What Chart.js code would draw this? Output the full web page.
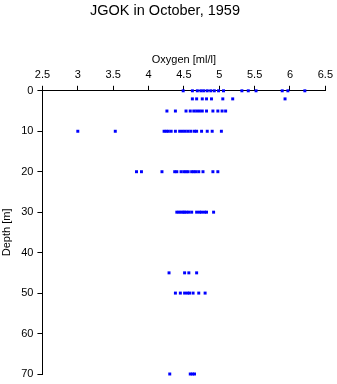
<!DOCTYPE html>
<html><head><meta charset="utf-8">
<script src="https://cdn.jsdelivr.net/npm/chart.js@4/dist/chart.umd.min.js"></script>
<style>html,body{margin:0;padding:0;background:#fff}#c{display:block}</style>
</head><body>
<canvas id="c" width="337" height="384"></canvas>
<script>
const depths = [0, 2, 5, 10, 20, 30, 45, 50, 70];
const oxygen0  = [4.49, 4.62, 4.69, 4.74, 4.78, 4.83, 4.88, 4.93, 4.99, 5.06, 5.32, 5.41, 5.52, 5.89, 5.97, 6.21];
const oxygen2  = [4.62, 4.68, 4.76, 4.82, 4.89, 5.05, 5.19, 5.93];
const oxygen5  = [4.26, 4.38, 4.53, 4.59, 4.64, 4.68, 4.72, 4.76, 4.82, 4.91, 4.98, 5.04, 5.09];
const oxygen10 = [3.0, 3.53, 4.22, 4.25, 4.28, 4.32, 4.38, 4.44, 4.48, 4.52, 4.56, 4.60, 4.65, 4.68, 4.75, 4.83, 4.90, 5.03];
const oxygen20 = [3.83, 3.90, 4.19, 4.37, 4.40, 4.46, 4.50, 4.53, 4.56, 4.61, 4.64, 4.67, 4.71, 4.77, 4.91, 4.98];
const oxygen30 = [4.40, 4.43, 4.46, 4.49, 4.51, 4.54, 4.57, 4.61, 4.68, 4.72, 4.75, 4.79, 4.82, 4.92];
const oxygen45 = [4.29, 4.51, 4.57, 4.68];
const oxygen50 = [4.38, 4.45, 4.51, 4.55, 4.58, 4.63, 4.71, 4.80];
const oxygen70 = [4.30, 4.59, 4.62, 4.65];
const xTicks = [2.5, 3, 3.5, 4, 4.5, 5, 5.5, 6, 6.5];
const yTicks = [0, 10, 20, 30, 40, 50, 60, 70];

const series = [oxygen0, oxygen2, oxygen5, oxygen10, oxygen20, oxygen30, oxygen45, oxygen50, oxygen70];
const points = [];
series.forEach((arr, i) => arr.forEach(v => points.push({x: v, y: depths[i]})));

const FONT = "'Liberation Sans', Arial, sans-serif";
new Chart(document.getElementById('c'), {
  type: 'scatter',
  data: { datasets: [{
    data: points,
    pointStyle: 'rect',
    pointRadius: 2.1,
    backgroundColor: '#0000ff',
    borderColor: '#0000ff',
    borderWidth: 0,
    clip: false
  }]},
  options: {
    responsive: false,
    animation: false,
    devicePixelRatio: 1,
    layout: { padding: { left: 0, right: 7, top: 0, bottom: 10 } },
    plugins: {
      legend: { display: false },
      tooltip: { enabled: false },
      title: {
        display: true,
        text: 'JGOK in October, 1959',
        color: '#000',
        font: { family: FONT, size: 14.5, weight: 'normal' },
        padding: { top: 2, bottom: 34 }
      }
    },
    scales: {
      x: {
        type: 'linear',
        position: 'top',
        min: 2.5, max: 6.5,
        afterBuildTicks: s => { s.ticks = xTicks.map(v => ({value: v})); },
        ticks: { color: '#000', font: { family: FONT, size: 11 }, padding: 4, maxRotation: 0,
                 callback: v => String(v) },
        grid: { drawOnChartArea: false, drawTicks: true, tickLength: 5, color: '#000', lineWidth: 1 },
        border: { display: true, color: '#000', width: 1 },
        title: { display: true, text: 'Oxygen [ml/l]', color: '#000', font: { family: FONT, size: 11 }, padding: { top: 0, bottom: -2 } }
      },
      y: {
        type: 'linear',
        reverse: true,
        min: 0, max: 70,
        afterBuildTicks: s => { s.ticks = yTicks.map(v => ({value: v})); },
        afterFit: s => { s.paddingBottom = 0; },
        ticks: { color: '#000', font: { family: FONT, size: 11 }, padding: 4 },
        grid: { drawOnChartArea: false, drawTicks: true, tickLength: 5, color: '#000', lineWidth: 1 },
        border: { display: true, color: '#000', width: 1 },
        title: { display: true, text: 'Depth [m]', color: '#000', font: { family: FONT, size: 11 }, padding: { top: 0, bottom: 4 } }
      }
    }
  }
});
</script>
</body></html>
